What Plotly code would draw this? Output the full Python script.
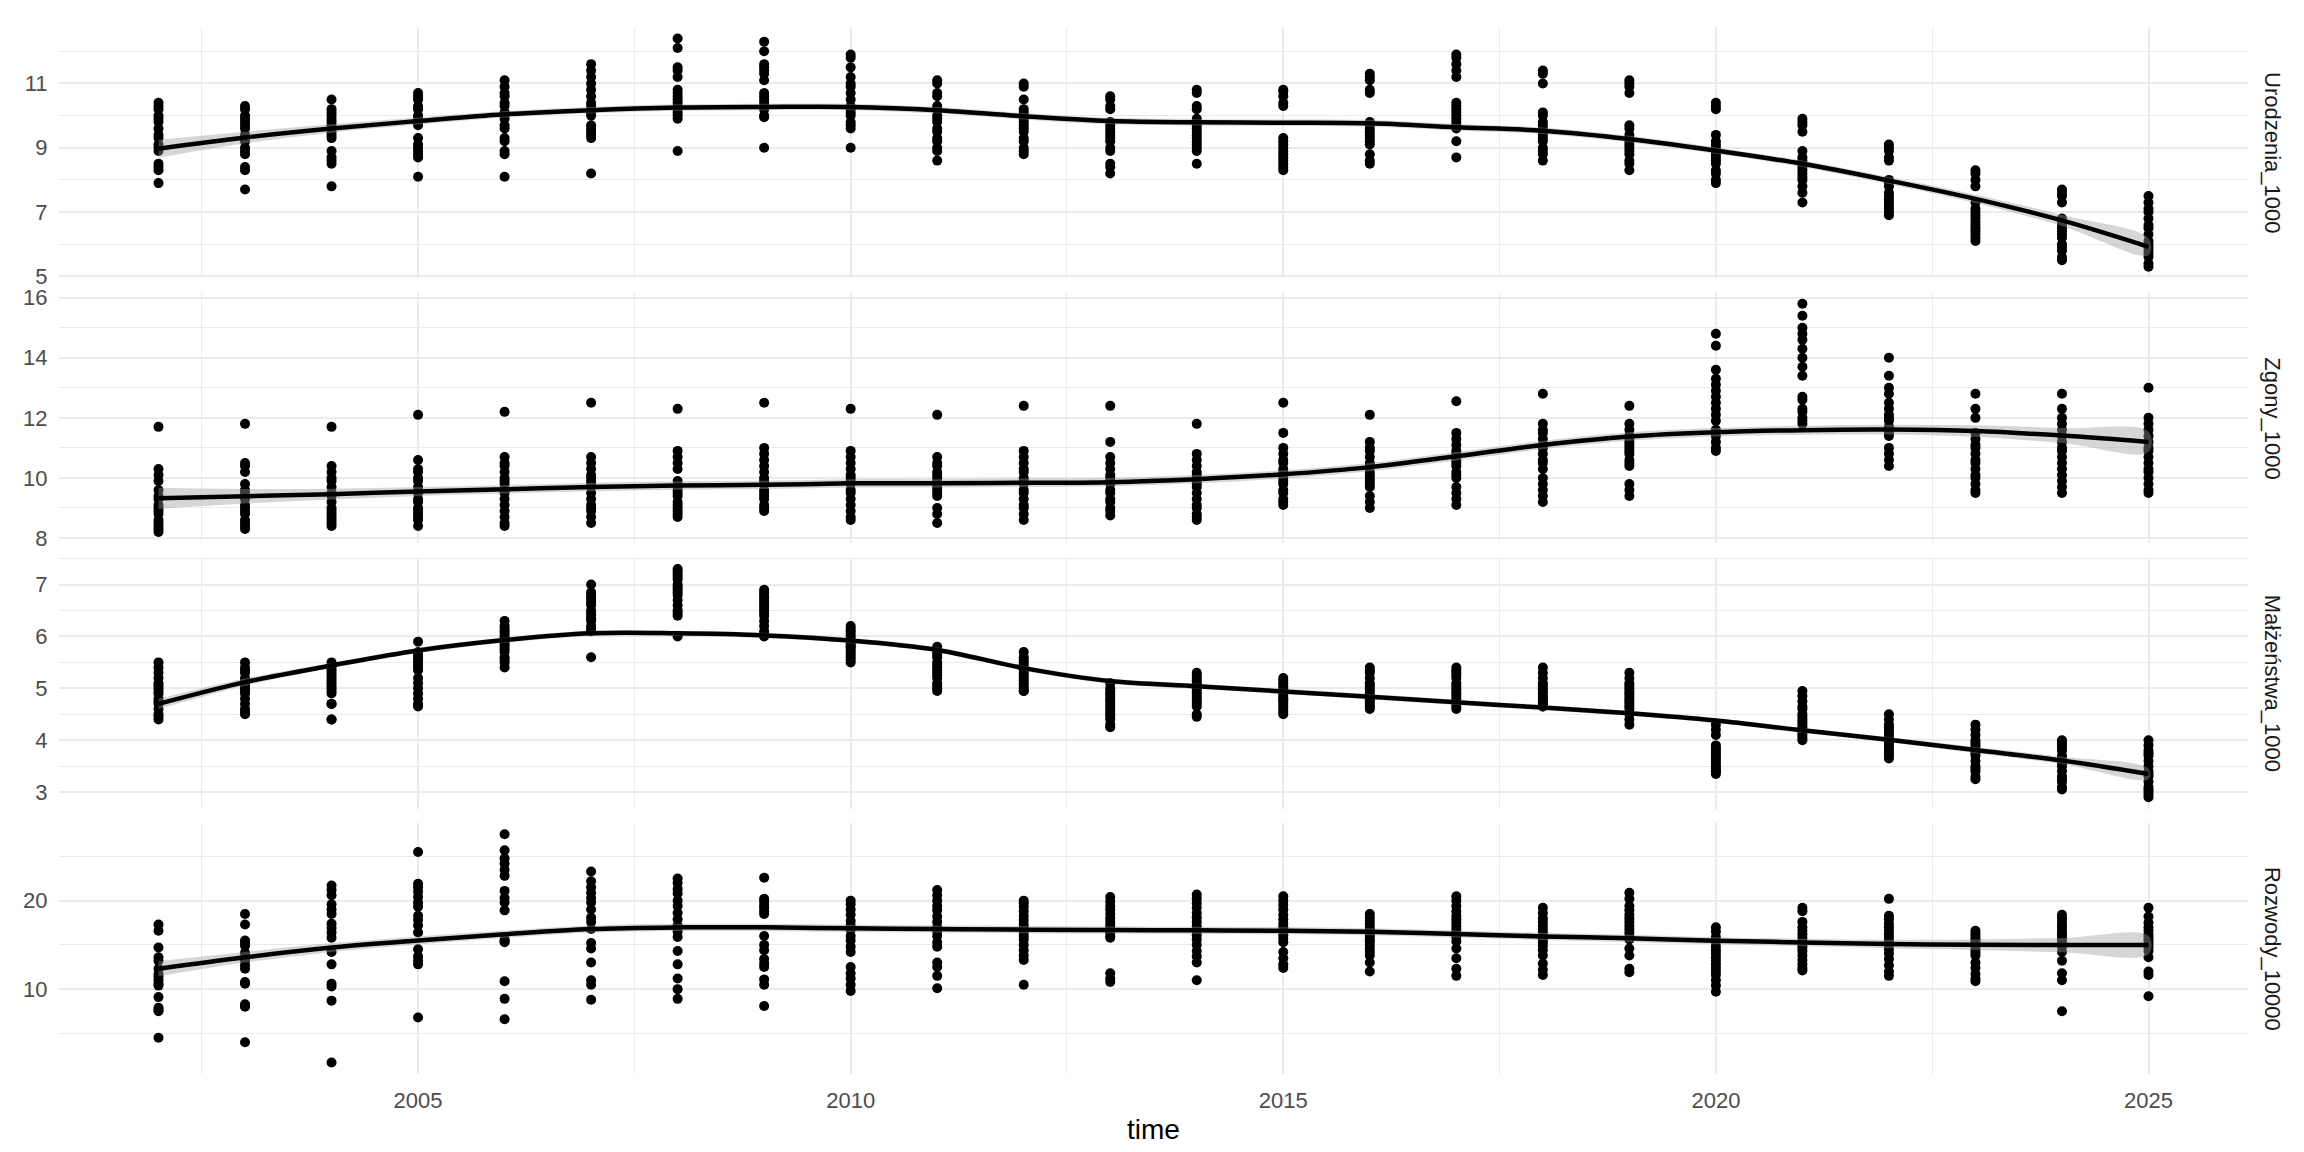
import plotly.graph_objects as go
from plotly.subplots import make_subplots

# years on the x axis
years = list(range(2002, 2026))

# values per year (one list of 16 regions per year)
urodzenia_1000 = [
    [10.4, 10.3, 10.2, 10.0, 9.9, 9.8, 9.6, 9.4, 9.3, 9.1, 9.0, 8.9, 8.5, 8.4, 8.3, 7.9],
    [10.3, 10.2, 10.0, 9.9, 9.8, 9.7, 9.6, 9.4, 9.3, 9.2, 9.0, 8.9, 8.8, 8.4, 8.3, 7.7],
    [10.5, 10.2, 10.1, 10.0, 9.9, 9.8, 9.7, 9.6, 9.5, 9.4, 9.3, 8.9, 8.7, 8.6, 8.5, 7.8],
    [10.7, 10.6, 10.5, 10.3, 10.2, 10.0, 9.9, 9.8, 9.7, 9.3, 9.1, 9.0, 8.9, 8.8, 8.7, 8.1],
    [11.1, 10.9, 10.7, 10.6, 10.4, 10.3, 10.1, 10.0, 9.9, 9.7, 9.6, 9.3, 9.2, 8.9, 8.8, 8.1],
    [11.6, 11.4, 11.2, 11.0, 10.8, 10.6, 10.4, 10.3, 10.1, 10.0, 9.7, 9.6, 9.5, 9.4, 9.3, 8.2],
    [12.4, 12.1, 11.5, 11.4, 11.2, 10.8, 10.7, 10.6, 10.5, 10.4, 10.3, 10.2, 10.1, 10.0, 9.9, 8.9],
    [12.3, 12.0, 11.6, 11.5, 11.4, 11.3, 11.1, 10.7, 10.6, 10.5, 10.4, 10.3, 10.2, 10.0, 9.95, 9.0],
    [11.9, 11.8, 11.5, 11.2, 11.0, 10.9, 10.7, 10.5, 10.3, 10.2, 10.1, 10.0, 9.8, 9.7, 9.6, 9.0],
    [11.1, 11.0, 10.7, 10.6, 10.3, 10.2, 10.0, 9.9, 9.8, 9.6, 9.5, 9.3, 9.2, 9.0, 8.9, 8.6],
    [11.0, 10.9, 10.5, 10.2, 10.1, 10.0, 9.9, 9.8, 9.7, 9.6, 9.5, 9.3, 9.2, 9.0, 8.9, 8.8],
    [10.6, 10.5, 10.3, 10.2, 9.8, 9.7, 9.6, 9.5, 9.4, 9.3, 9.2, 9.0, 8.9, 8.5, 8.4, 8.2],
    [10.8, 10.7, 10.3, 10.2, 9.9, 9.8, 9.7, 9.6, 9.5, 9.4, 9.3, 9.2, 9.1, 9.0, 8.9, 8.5],
    [10.8, 10.75, 10.6, 10.4, 10.3, 9.3, 9.2, 9.1, 9.0, 8.9, 8.8, 8.7, 8.6, 8.5, 8.4, 8.3],
    [11.3, 11.2, 11.1, 10.8, 10.7, 9.8, 9.7, 9.6, 9.5, 9.4, 9.3, 9.2, 9.1, 8.8, 8.6, 8.5],
    [11.9, 11.8, 11.6, 11.4, 11.2, 10.4, 10.3, 10.2, 10.1, 10.0, 9.9, 9.8, 9.7, 9.6, 9.2, 8.7],
    [11.4, 11.3, 11.0, 10.1, 10.0, 9.8, 9.7, 9.6, 9.5, 9.4, 9.3, 9.2, 9.0, 8.9, 8.8, 8.6],
    [11.1, 11.0, 10.9, 10.7, 9.7, 9.6, 9.4, 9.3, 9.2, 9.1, 9.0, 8.9, 8.8, 8.6, 8.5, 8.3],
    [10.4, 10.3, 10.2, 9.4, 9.2, 9.1, 9.0, 8.9, 8.8, 8.7, 8.6, 8.5, 8.3, 8.2, 8.0, 7.9],
    [9.9, 9.8, 9.7, 9.5, 8.9, 8.7, 8.6, 8.5, 8.4, 8.3, 8.2, 8.1, 8.0, 7.8, 7.6, 7.3],
    [9.1, 9.0, 8.9, 8.7, 8.6, 8.0, 7.9, 7.8, 7.6, 7.5, 7.4, 7.3, 7.2, 7.1, 7.0, 6.9],
    [8.3, 8.2, 8.0, 7.8, 7.3, 7.1, 7.0, 6.9, 6.8, 6.7, 6.6, 6.5, 6.4, 6.3, 6.2, 6.1],
    [7.7, 7.6, 7.5, 7.3, 6.8, 6.7, 6.6, 6.5, 6.4, 6.3, 6.2, 6.0, 5.9, 5.8, 5.6, 5.5],
    [7.5, 7.3, 7.1, 7.0, 6.8, 6.6, 6.5, 6.3, 6.1, 6.0, 5.9, 5.8, 5.7, 5.6, 5.4, 5.3],
]

zgony_1000 = [
    [11.7, 10.3, 10.1, 9.9, 9.6, 9.4, 9.3, 9.1, 9.0, 8.9, 8.8, 8.6, 8.5, 8.4, 8.3, 8.2],
    [11.8, 10.5, 10.4, 10.2, 9.8, 9.6, 9.5, 9.3, 9.1, 9.0, 8.9, 8.8, 8.6, 8.5, 8.4, 8.3],
    [11.7, 10.4, 10.2, 10.0, 9.9, 9.7, 9.5, 9.4, 9.2, 9.0, 8.9, 8.8, 8.7, 8.6, 8.5, 8.4],
    [12.1, 10.6, 10.3, 10.2, 10.0, 9.9, 9.7, 9.5, 9.3, 9.2, 9.0, 8.9, 8.8, 8.7, 8.6, 8.4],
    [12.2, 10.7, 10.5, 10.4, 10.2, 10.0, 9.9, 9.8, 9.6, 9.5, 9.3, 9.1, 8.9, 8.7, 8.5, 8.4],
    [12.5, 10.7, 10.5, 10.3, 10.1, 10.0, 9.9, 9.8, 9.7, 9.5, 9.3, 9.1, 9.0, 8.9, 8.7, 8.5],
    [12.3, 10.9, 10.7, 10.5, 10.3, 9.9, 9.7, 9.6, 9.5, 9.4, 9.2, 9.1, 9.0, 8.9, 8.8, 8.7],
    [12.5, 11.0, 10.8, 10.6, 10.4, 10.2, 10.0, 9.9, 9.8, 9.6, 9.5, 9.4, 9.3, 9.1, 9.0, 8.9],
    [12.3, 10.9, 10.7, 10.5, 10.3, 10.1, 10.0, 9.9, 9.8, 9.6, 9.5, 9.3, 9.1, 8.9, 8.7, 8.6],
    [12.1, 10.7, 10.5, 10.4, 10.2, 10.1, 10.0, 9.9, 9.8, 9.7, 9.6, 9.5, 9.4, 9.0, 8.8, 8.5],
    [12.4, 10.9, 10.7, 10.5, 10.3, 10.2, 10.0, 9.9, 9.8, 9.6, 9.5, 9.3, 9.1, 9.0, 8.8, 8.6],
    [12.4, 11.2, 10.7, 10.5, 10.3, 10.1, 10.0, 9.9, 9.8, 9.6, 9.5, 9.3, 9.2, 9.0, 8.9, 8.75],
    [11.8, 10.8, 10.6, 10.4, 10.2, 10.1, 9.9, 9.8, 9.7, 9.5, 9.3, 9.1, 9.0, 8.8, 8.7, 8.6],
    [12.5, 11.5, 11.0, 10.8, 10.6, 10.5, 10.3, 10.2, 10.0, 9.9, 9.8, 9.6, 9.5, 9.3, 9.2, 9.1],
    [12.1, 11.2, 11.0, 10.9, 10.7, 10.5, 10.4, 10.2, 10.1, 10.0, 9.9, 9.8, 9.7, 9.4, 9.2, 9.0],
    [12.55, 11.5, 11.3, 11.1, 10.9, 10.8, 10.6, 10.5, 10.4, 10.2, 10.1, 10.0, 9.7, 9.5, 9.3, 9.1],
    [12.8, 11.8, 11.6, 11.5, 11.3, 11.1, 11.0, 10.8, 10.6, 10.5, 10.3, 10.0, 9.8, 9.6, 9.4, 9.2],
    [12.4, 11.8, 11.6, 11.4, 11.3, 11.2, 11.1, 11.0, 10.9, 10.8, 10.6, 10.5, 10.4, 9.8, 9.6, 9.4],
    [14.8, 14.4, 13.6, 13.3, 13.1, 12.9, 12.7, 12.5, 12.3, 12.1, 11.9, 11.6, 11.4, 11.2, 11.0, 10.9],
    [15.8, 15.4, 15.0, 14.8, 14.6, 14.3, 14.0, 13.7, 13.4, 12.7, 12.6, 12.3, 12.2, 12.0, 11.9, 11.8],
    [14.0, 13.4, 13.0, 12.8, 12.5, 12.3, 12.1, 12.0, 11.9, 11.7, 11.5, 11.4, 11.0, 10.8, 10.6, 10.4],
    [12.8, 12.3, 12.0, 11.5, 11.3, 11.1, 11.0, 10.8, 10.6, 10.5, 10.3, 10.1, 10.0, 9.8, 9.6, 9.5],
    [12.8, 12.3, 12.0, 11.8, 11.6, 11.4, 11.2, 11.0, 10.9, 10.7, 10.5, 10.3, 10.1, 9.9, 9.7, 9.5],
    [13.0, 12.0, 11.8, 11.6, 11.4, 11.2, 11.0, 10.9, 10.7, 10.5, 10.3, 10.2, 10.0, 9.8, 9.6, 9.5],
]

malzenstwa_1000 = [
    [5.5, 5.4, 5.3, 5.2, 5.1, 5.05, 5.0, 4.95, 4.9, 4.8, 4.75, 4.7, 4.6, 4.5, 4.45, 4.4],
    [5.5, 5.4, 5.35, 5.3, 5.2, 5.15, 5.1, 5.05, 5.0, 4.95, 4.9, 4.8, 4.7, 4.6, 4.55, 4.5],
    [5.5, 5.4, 5.35, 5.3, 5.25, 5.2, 5.15, 5.1, 5.05, 5.0, 4.95, 4.9, 4.7, 4.7, 4.4, 4.4],
    [5.9, 5.7, 5.65, 5.6, 5.55, 5.5, 5.45, 5.4, 5.35, 5.2, 5.1, 5.0, 4.9, 4.8, 4.7, 4.65],
    [6.3, 6.2, 6.15, 6.1, 6.05, 6.0, 5.95, 5.9, 5.85, 5.8, 5.75, 5.7, 5.6, 5.55, 5.5, 5.4],
    [7.0, 6.85, 6.8, 6.75, 6.7, 6.65, 6.6, 6.5, 6.45, 6.4, 6.35, 6.3, 6.2, 6.15, 6.1, 5.6],
    [7.3, 7.25, 7.2, 7.15, 7.1, 7.0, 6.95, 6.9, 6.85, 6.8, 6.7, 6.6, 6.5, 6.45, 6.4, 6.0],
    [6.9, 6.85, 6.8, 6.75, 6.7, 6.65, 6.6, 6.55, 6.5, 6.45, 6.4, 6.3, 6.2, 6.1, 6.05, 6.0],
    [6.2, 6.15, 6.1, 6.05, 6.0, 5.95, 5.9, 5.85, 5.8, 5.8, 5.75, 5.7, 5.65, 5.6, 5.55, 5.5],
    [5.8, 5.75, 5.7, 5.65, 5.6, 5.5, 5.45, 5.4, 5.35, 5.3, 5.25, 5.2, 5.1, 5.05, 5.0, 4.95],
    [5.7, 5.6, 5.55, 5.5, 5.45, 5.4, 5.35, 5.3, 5.25, 5.2, 5.15, 5.1, 5.05, 5.0, 4.95, 4.95],
    [5.1, 5.0, 4.95, 4.9, 4.85, 4.8, 4.75, 4.7, 4.65, 4.6, 4.55, 4.5, 4.45, 4.4, 4.3, 4.25],
    [5.3, 5.25, 5.2, 5.15, 5.1, 5.05, 5.0, 4.95, 4.9, 4.85, 4.8, 4.75, 4.7, 4.65, 4.5, 4.45],
    [5.2, 5.15, 5.1, 5.05, 5.0, 4.95, 4.9, 4.85, 4.8, 4.8, 4.75, 4.7, 4.65, 4.6, 4.55, 4.5],
    [5.4, 5.35, 5.3, 5.2, 5.1, 5.05, 5.0, 4.95, 4.9, 4.85, 4.8, 4.8, 4.75, 4.7, 4.65, 4.6],
    [5.4, 5.35, 5.3, 5.25, 5.2, 5.1, 5.05, 5.0, 4.95, 4.9, 4.85, 4.8, 4.75, 4.7, 4.65, 4.6],
    [5.4, 5.3, 5.2, 5.1, 5.05, 5.0, 4.95, 4.9, 4.85, 4.8, 4.8, 4.75, 4.7, 4.7, 4.65, 4.65],
    [5.3, 5.2, 5.1, 5.05, 5.0, 4.95, 4.9, 4.85, 4.8, 4.75, 4.7, 4.65, 4.6, 4.5, 4.4, 4.3],
    [4.3, 4.2, 4.1, 3.9, 3.85, 3.8, 3.75, 3.7, 3.65, 3.6, 3.55, 3.5, 3.45, 3.4, 3.4, 3.35],
    [4.95, 4.85, 4.75, 4.65, 4.6, 4.5, 4.45, 4.4, 4.35, 4.3, 4.25, 4.2, 4.15, 4.1, 4.05, 4.0],
    [4.5, 4.4, 4.3, 4.25, 4.2, 4.15, 4.1, 4.05, 4.0, 3.95, 3.9, 3.85, 3.8, 3.75, 3.7, 3.65],
    [4.3, 4.2, 4.1, 4.0, 3.95, 3.9, 3.85, 3.8, 3.75, 3.7, 3.6, 3.5, 3.45, 3.4, 3.3, 3.25],
    [4.0, 3.95, 3.9, 3.85, 3.8, 3.7, 3.65, 3.6, 3.55, 3.5, 3.4, 3.3, 3.25, 3.2, 3.1, 3.05],
    [4.0, 3.9, 3.8, 3.75, 3.7, 3.6, 3.5, 3.4, 3.35, 3.3, 3.2, 3.1, 3.05, 3.0, 2.95, 2.9],
]

rozwody_10000 = [
    [17.3, 16.6, 14.7, 13.6, 13.2, 12.3, 11.7, 11.4, 11.0, 10.6, 10.4, 9.1, 7.9, 7.7, 7.5, 4.5],
    [18.5, 17.3, 15.5, 15.2, 14.9, 14.1, 13.6, 13.2, 12.7, 12.3, 10.8, 10.6, 8.3, 8.1, 8.0, 4.0],
    [21.7, 21.2, 20.6, 19.6, 19.0, 18.5, 17.4, 16.9, 16.4, 15.8, 14.2, 12.8, 10.6, 10.3, 8.7, 1.7],
    [25.5, 21.9, 21.5, 21.0, 20.4, 19.8, 19.3, 18.3, 17.8, 17.2, 16.4, 14.5, 13.7, 13.2, 12.8, 6.8],
    [27.5, 25.7, 24.8, 24.2, 23.5, 22.8, 21.1, 20.3, 19.8, 18.9, 15.6, 15.4, 15.3, 10.9, 8.9, 6.6],
    [23.3, 22.2, 21.5, 20.9, 20.3, 19.8, 19.0, 18.1, 17.6, 16.8, 15.2, 14.6, 13.0, 11.0, 10.5, 8.8],
    [22.5, 22.0, 21.3, 20.8, 20.0, 19.4, 18.6, 17.9, 17.2, 16.5, 15.9, 14.3, 12.8, 11.2, 10.0, 8.9],
    [22.6, 20.2, 19.9, 19.5, 19.2, 18.8, 18.5, 16.0, 15.0, 14.4, 13.4, 12.9, 12.5, 11.1, 10.5, 8.1],
    [20.0, 19.6, 19.0, 18.4, 17.7, 17.2, 16.7, 16.0, 15.5, 14.8, 14.2, 12.5, 11.8, 11.2, 10.5, 9.8],
    [21.2, 20.6, 20.0, 19.4, 18.9, 18.2, 17.6, 17.0, 16.5, 16.0, 15.3, 14.8, 13.0, 12.5, 11.5, 10.1],
    [20.0, 19.7, 19.3, 18.8, 18.3, 17.8, 17.3, 16.9, 16.4, 16.0, 15.6, 15.0, 14.4, 13.8, 13.3, 10.5],
    [20.4, 19.9, 19.4, 19.0, 18.5, 18.0, 17.6, 17.2, 16.8, 16.4, 16.0, 15.8, 16.5, 11.8, 11.2, 10.8],
    [20.7, 20.2, 19.7, 19.2, 18.6, 18.1, 17.6, 17.1, 16.6, 16.1, 15.6, 15.0, 14.3, 13.7, 13.0, 11.0],
    [20.5, 20.0, 19.5, 19.0, 18.4, 17.9, 17.4, 17.0, 16.5, 16.1, 15.7, 15.3, 14.2, 13.5, 12.8, 12.4],
    [18.5, 18.1, 17.7, 17.3, 16.9, 16.6, 16.3, 16.0, 15.7, 15.4, 15.0, 14.6, 14.2, 13.8, 13.0, 12.0],
    [20.5, 20.0, 19.4, 18.8, 18.3, 17.9, 17.5, 17.1, 16.7, 16.3, 15.9, 15.4, 14.6, 13.5, 12.3, 11.5],
    [19.2, 18.6, 18.0, 17.6, 17.2, 16.8, 16.4, 16.0, 15.6, 15.3, 14.9, 14.4, 13.8, 12.9, 12.2, 11.6],
    [20.9, 20.2, 19.4, 18.9, 18.4, 18.0, 17.6, 17.2, 16.8, 16.4, 16.0, 15.6, 14.6, 13.8, 12.3, 11.9],
    [17.0, 16.5, 15.9, 15.3, 14.8, 14.4, 14.0, 13.6, 13.2, 12.8, 12.4, 12.0, 11.6, 11.0, 10.4, 9.7],
    [19.2, 18.8, 17.6, 17.0, 16.6, 16.2, 15.8, 15.4, 15.0, 14.7, 14.3, 13.8, 13.3, 12.8, 12.4, 12.1],
    [20.2, 18.3, 17.9, 17.4, 17.0, 16.6, 16.2, 15.8, 15.4, 15.0, 14.5, 14.0, 13.4, 12.7, 12.0, 11.5],
    [16.6, 16.3, 16.0, 15.7, 15.5, 15.2, 15.0, 14.7, 14.4, 14.1, 13.8, 13.0, 12.4, 11.7, 11.2, 10.9],
    [18.4, 18.0, 17.6, 17.2, 16.9, 16.5, 16.2, 15.9, 15.6, 15.2, 14.8, 14.2, 13.2, 11.8, 11.0, 7.5],
    [19.2, 18.2, 17.5, 17.0, 16.6, 16.2, 15.9, 15.6, 15.3, 15.0, 14.7, 14.3, 13.6, 12.0, 11.6, 9.2],
]

# smoothed trend (loess) and its standard-error half width
trend_urodzenia = [8.97, 9.32, 9.6, 9.83, 10.04, 10.17, 10.25, 10.27, 10.27, 10.17, 9.98, 9.83,
                   9.79, 9.78, 9.76, 9.64, 9.53, 9.27, 8.91, 8.5, 7.98, 7.41, 6.74, 5.92]
se_urodzenia = [0.28, 0.18, 0.13, 0.11, 0.1, 0.1, 0.1, 0.1, 0.1, 0.1, 0.1, 0.1,
                0.1, 0.1, 0.1, 0.1, 0.1, 0.1, 0.1, 0.1, 0.11, 0.13, 0.17, 0.26]
trend_zgony = [9.32, 9.39, 9.46, 9.55, 9.62, 9.7, 9.75, 9.77, 9.82, 9.82, 9.84, 9.86,
               9.96, 10.12, 10.36, 10.72, 11.1, 11.38, 11.52, 11.59, 11.61, 11.56, 11.41, 11.2]
se_zgony = [0.35, 0.24, 0.18, 0.15, 0.14, 0.14, 0.14, 0.14, 0.14, 0.14, 0.14, 0.14,
            0.14, 0.14, 0.14, 0.14, 0.14, 0.14, 0.14, 0.15, 0.16, 0.19, 0.25, 0.34]
trend_malzenstwa = [4.7, 5.12, 5.44, 5.73, 5.93, 6.06, 6.06, 6.02, 5.92, 5.74, 5.39, 5.14,
                    5.04, 4.94, 4.84, 4.73, 4.63, 4.52, 4.38, 4.19, 4.01, 3.81, 3.61, 3.35]
se_malzenstwa = [0.1, 0.07, 0.05, 0.05, 0.05, 0.05, 0.05, 0.05, 0.05, 0.05, 0.05, 0.05,
                 0.05, 0.05, 0.05, 0.05, 0.05, 0.05, 0.05, 0.05, 0.05, 0.06, 0.07, 0.1]
trend_rozwody = [12.3, 13.6, 14.7, 15.5, 16.2, 16.79, 16.98, 16.98, 16.87, 16.79, 16.72, 16.68,
                 16.64, 16.6, 16.49, 16.23, 15.96, 15.74, 15.47, 15.28, 15.09, 15.02, 14.98, 14.98]
se_rozwody = [0.85, 0.6, 0.5, 0.45, 0.42, 0.4, 0.4, 0.4, 0.4, 0.4, 0.4, 0.4,
              0.4, 0.4, 0.4, 0.4, 0.4, 0.4, 0.4, 0.42, 0.48, 0.6, 0.8, 1.05]

panel_names = ["Urodzenia_1000", "Zgony_1000", "Małżeństwa_1000", "Rozwody_10000"]
panel_values = [urodzenia_1000, zgony_1000, malzenstwa_1000, rozwody_10000]
panel_trends = [trend_urodzenia, trend_zgony, trend_malzenstwa, trend_rozwody]
panel_se = [se_urodzenia, se_zgony, se_malzenstwa, se_rozwody]

# axis settings per panel (major tick step, first tick)
y_dtick = [2, 2, 1, 10]
y_tick0 = [1, 0, 0, 0]

FONT = "Arial, Liberation Sans, sans-serif"
GRID = "#EBEBEB"

fig = make_subplots(rows=4, cols=1, shared_xaxes=True, vertical_spacing=0.0135)

for i, (name, vals, trend, se) in enumerate(zip(panel_names, panel_values, panel_trends, panel_se)):
    row = i + 1
    xs, ys = [], []
    for yr, group in zip(years, vals):
        xs += [yr] * len(group)
        ys += group
    fig.add_trace(go.Scatter(x=xs, y=ys, mode="markers",
                             marker=dict(color="black", size=10),
                             showlegend=False), row=row, col=1)

    upper = [t + s for t, s in zip(trend, se)]
    lower = [t - s for t, s in zip(trend, se)]
    fig.add_trace(go.Scatter(x=years + years[::-1], y=upper + lower[::-1],
                             fill="toself", fillcolor="rgba(153,153,153,0.4)",
                             line=dict(width=0, shape="spline"), mode="lines",
                             hoverinfo="skip", showlegend=False), row=row, col=1)
    fig.add_trace(go.Scatter(x=years, y=trend, mode="lines",
                             line=dict(color="black", width=4.5, shape="spline"),
                             showlegend=False), row=row, col=1)

    # y range with ggplot-like 5% expansion
    lo, hi = min(min(g) for g in vals), max(max(g) for g in vals)
    pad = (hi - lo) * 0.05
    fig.update_yaxes(range=[lo - pad, hi + pad], dtick=y_dtick[i], tick0=y_tick0[i],
                     showgrid=True, gridcolor=GRID, gridwidth=2,
                     minor=dict(dtick=y_dtick[i] / 2, tick0=y_tick0[i], showgrid=True,
                                gridcolor=GRID, gridwidth=1),
                     zeroline=False, showline=False,
                     ticks="outside", ticklen=6, tickcolor="rgba(0,0,0,0)",
                     tickfont=dict(family=FONT, size=22, color="#4D4D4D"),
                     row=row, col=1)

    dom = fig.layout["yaxis" if row == 1 else f"yaxis{row}"].domain
    fig.add_annotation(text=name, xref="paper", yref="paper", x=1, xanchor="left", xshift=10,
                       y=(dom[0] + dom[1]) / 2, yanchor="middle", textangle=90,
                       showarrow=False, font=dict(family=FONT, size=22, color="#1A1A1A"))

span = years[-1] - years[0]
fig.update_xaxes(range=[years[0] - 0.05 * span, years[-1] + 0.05 * span],
                 dtick=5, tick0=2005, showgrid=True, gridcolor=GRID, gridwidth=1.5,
                 minor=dict(dtick=2.5, tick0=2005, showgrid=True, gridcolor=GRID, gridwidth=1),
                 zeroline=False, showline=False,
                 ticks="outside", ticklen=7, tickcolor="rgba(0,0,0,0)",
                 tickfont=dict(family=FONT, size=22, color="#4D4D4D"))
fig.update_xaxes(title_text="time", title_font=dict(family=FONT, size=28, color="black"),
                 title_standoff=6, row=4, col=1)

fig.update_layout(width=2304, height=1152, plot_bgcolor="white", paper_bgcolor="white",
                  margin=dict(l=51, r=64, t=17, b=86), showlegend=False,
                  font=dict(family=FONT))

fig.write_html("out.html")
